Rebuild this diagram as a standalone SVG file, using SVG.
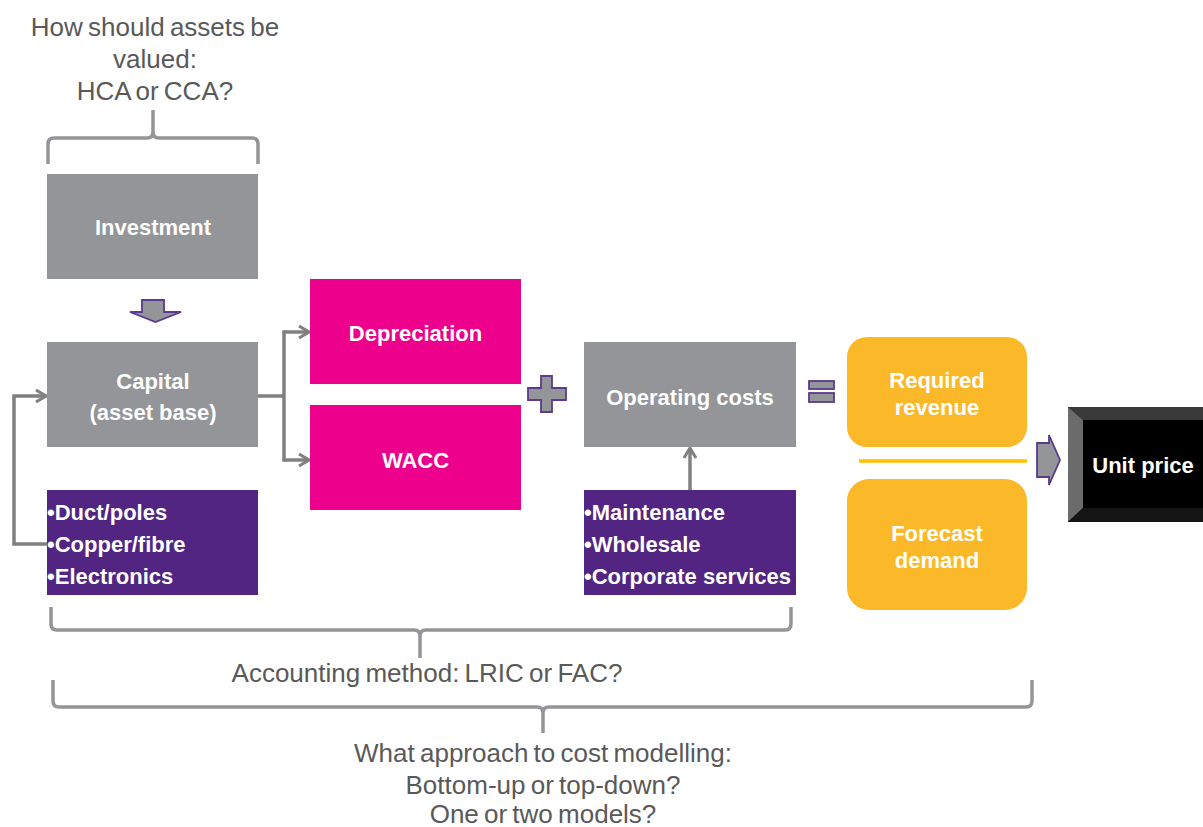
<svg xmlns="http://www.w3.org/2000/svg" width="1203" height="827" viewBox="0 0 1203 827">
<style>
.q{font-family:"Liberation Sans",Arial,sans-serif;font-size:26px;fill:#595959;text-anchor:middle;word-spacing:-2px}
.n{font-family:"Liberation Sans",Arial,sans-serif;font-size:22px;font-weight:bold;fill:#fff;text-anchor:middle}
.b{font-family:"Liberation Sans",Arial,sans-serif;font-size:22px;font-weight:bold;fill:#fff}
.gray{fill:#939598}
.mag{fill:#EC008C}
.pur{fill:#522583}
.yel{fill:#FBB829}
.conn{fill:none;stroke:#808080;stroke-width:3.5}
.brk{fill:none;stroke:#939598;stroke-width:3.5;stroke-linejoin:round}
.blk{fill:#939598;stroke:#5B3A8F;stroke-width:1.8}
</style>
<defs>
<marker id="ah" viewBox="0 0 12 14" refX="11" refY="7" markerWidth="12" markerHeight="14" markerUnits="userSpaceOnUse" orient="auto">
<path d="M1,1 L11,7 L1,13" fill="none" stroke="#808080" stroke-width="3"/>
</marker>
</defs>
<rect width="1203" height="827" fill="#fff"/>
<g id="questions">
<text class="q" x="155" y="36">How should assets be</text>
<text class="q" x="155" y="68">valued:</text>
<text class="q" x="155" y="100">HCA or CCA?</text>
<text class="q" x="427" y="682">Accounting method: LRIC or FAC?</text>
<text class="q" x="543" y="762">What approach to cost modelling:</text>
<text class="q" x="543" y="794">Bottom-up or top-down?</text>
<text class="q" x="543" y="823">One or two models?</text>
</g>
<g id="brackets">
<path class="brk" d="M48,164 V144 Q48,138 54,138 H147 Q153,138 153,132 V110 M153,132 Q153,138 159,138 H252 Q258,138 258,144 V164"/>
<path class="brk" d="M51,607 V624 Q51,630 57,630 H414 Q420,630 420,636 V658 M420,636 Q420,630 426,630 H785 Q791,630 791,624 V607"/>
<path class="brk" d="M53,680 V701 Q53,707 59,707 H537 Q543,707 543,713 V733 M543,713 Q543,707 549,707 H1026 Q1032,707 1032,701 V680"/>
</g>
<g id="connectors">
<polyline class="conn" points="258,396 284,396"/>
<line class="conn" x1="284" y1="330.3" x2="284" y2="461.7"/>
<line class="conn" x1="284" y1="332" x2="309" y2="332" marker-end="url(#ah)"/>
<line class="conn" x1="284" y1="460" x2="309" y2="460" marker-end="url(#ah)"/>
<polyline class="conn" points="47,544 14,544 14,396 46,396" marker-end="url(#ah)"/>
<line class="conn" x1="690" y1="490" x2="690" y2="448" marker-end="url(#ah)"/>
<path class="blk" d="M142,300 H164 V312 H181 L155.5,322 L130,312 H142 Z"/>
<path class="blk" d="M541,376 H552 V388 H566 V400 H552 V412 H541 V400 H528 V388 H541 Z"/>
<rect class="blk" x="809" y="381" width="25" height="8"/>
<rect class="blk" x="809" y="393" width="25" height="9"/>
<path class="blk" d="M1037,443 H1049 V435 L1060,460 L1049,485 V477 H1037 Z"/>
<line x1="859" y1="461" x2="1027" y2="461" stroke="#FFC000" stroke-width="3.5"/>
</g>
<g id="investment">
<rect class="gray" x="47" y="174" width="211" height="105"/>
<text class="n" x="153" y="235">Investment</text>
</g>
<g id="capital">
<rect class="gray" x="47" y="342" width="211" height="105"/>
<text class="n" x="153" y="389">Capital</text>
<text class="n" x="153" y="420">(asset base)</text>
</g>
<g id="capital-items">
<rect class="pur" x="47" y="490" width="211" height="105"/>
<text class="b" x="47" y="520">•Duct/poles</text>
<text class="b" x="47" y="552">•Copper/fibre</text>
<text class="b" x="47" y="584">•Electronics</text>
</g>
<g id="depreciation">
<rect class="mag" x="310" y="279" width="211" height="105"/>
<text class="n" x="415.5" y="341">Depreciation</text>
</g>
<g id="wacc">
<rect class="mag" x="310" y="405" width="211" height="105"/>
<text class="n" x="415.5" y="468">WACC</text>
</g>
<g id="operating-costs">
<rect class="gray" x="584" y="342" width="212" height="105"/>
<text class="n" x="690" y="405">Operating costs</text>
</g>
<g id="opex-items">
<rect class="pur" x="584" y="490" width="212" height="105"/>
<text class="b" x="584" y="520">•Maintenance</text>
<text class="b" x="584" y="552">•Wholesale</text>
<text class="b" x="584" y="584">•Corporate services</text>
</g>
<g id="required-revenue">
<rect class="yel" x="847" y="337" width="180" height="110" rx="20"/>
<text class="n" x="937" y="388">Required</text>
<text class="n" x="937" y="415">revenue</text>
</g>
<g id="forecast-demand">
<rect class="yel" x="847" y="479" width="180" height="131" rx="22"/>
<text class="n" x="937" y="541">Forecast</text>
<text class="n" x="937" y="568">demand</text>
</g>
<g id="unit-price">
<rect x="1068" y="407" width="135" height="115" fill="#000"/>
<polygon points="1068,407 1203,407 1203,420 1083,420" fill="#3a3a3a"/>
<polygon points="1068,407 1083,420 1083,508 1068,522" fill="#6b6b6b"/>
<polygon points="1068,522 1083,508 1203,508 1203,522" fill="#141414"/>
<text class="n" x="1143" y="473">Unit price</text>
</g>
</svg>
